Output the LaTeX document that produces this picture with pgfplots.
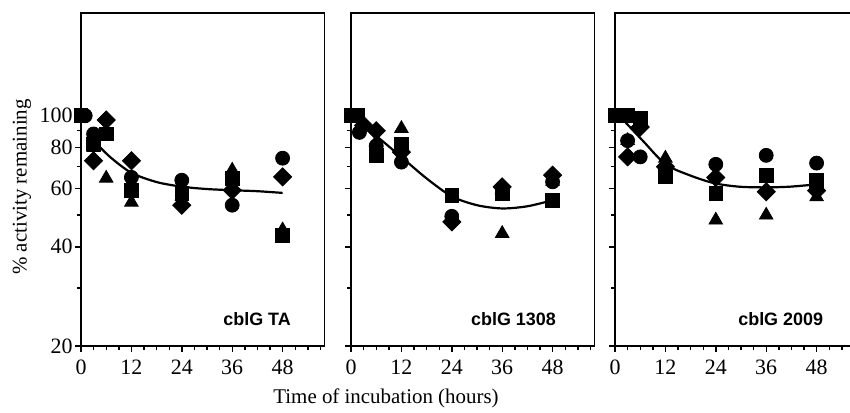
\documentclass[border=0pt]{standalone}
\usepackage{fontspec}
\setmainfont{Liberation Serif}
\setsansfont{Liberation Sans}
\usepackage{pgfplots}
\pgfplotsset{compat=1.18}
\pgfplotsset{
 panel/.style={
  scale only axis, width=121.8bp, height=166.5bp,
  anchor=south west,
  xmin=0, xmax=58, ymin=20, ymax=205,
  xtick={0,12,24,36,48}, xticklabels={0,12,24,36,48},
  minor xtick={3,6,9,15,18,21,27,30,33,39,42,45,51,54,57},
  ytick={20,40,60,80,100}, minor ytick={30,50,70,90},
  tick pos=left, tick align=outside,
  major tick length=3bp, minor tick length=2bp,
  every tick/.append style={black, line width=0.7bp},
  axis line style={line width=0.8bp},
  tick label style={font=\fontsize{11}{13}\selectfont},
  xticklabel style={yshift=-0.5bp},
  clip=false,
 },
 circ/.style={only marks, mark=*, mark size=3.5bp, black},
 sq/.style={only marks, mark=square*, mark size=3.4bp, black},
 dia/.style={only marks, mark=square*, mark size=3.2bp, black, mark options={rotate=45}},
 tri/.style={only marks, mark=triangle*, mark size=3.9bp, black},
 fitline/.style={no marks, smooth, black, line width=1.1bp},
}
\tikzset{lab/.style={anchor=base east, font=\fontsize{9}{11}\sffamily\bfseries}}
\begin{document}
\begin{tikzpicture}
% Panel 1
\begin{semilogyaxis}[panel, at={(40.5bp,33.5bp)}, yticklabels={20,40,60,80,100},
  yticklabel style={inner sep=1bp}]
\addplot[fitline] coordinates {(3,84) (7,74.8) (12,67.1) (18,62.9) (24,60.9) (30,59.9) (36,59.4) (42,59.0) (48,58.3)};
\addplot[circ] coordinates {(1,100) (3,88) (12,65) (24,63.7) (36,53.5) (48,74.3)};
\addplot[sq] coordinates {(0,100) (3,82) (6,88) (12,59.4) (24,58.2) (36,64.6) (48,43.4)};
\addplot[tri] coordinates {(3,80) (6,64.6) (12,54.6) (24,57) (36,68.3) (48,45)};
\addplot[dia] coordinates {(3,73) (6,97) (12,73) (24,53.5) (36,59.4) (48,65.2)};
\node[lab] at (rel axis cs:0.89,0.063) {cblG TA};
\end{semilogyaxis}
% Panel 2
\begin{semilogyaxis}[panel, at={(175.5bp,33.5bp)}, yticklabels={}]
\addplot[fitline] coordinates {(0,99) (5.3,88.3) (12,74.9) (18,64.5) (24,56.9) (30,53.5) (36,52.3) (42,53.1) (48,55.4)};
\addplot[circ] coordinates {(2,89) (6,81) (12,72.3) (24,49.5) (36,58) (48,63)};
\addplot[sq] coordinates {(0,100) (1.5,100) (6,75.8) (12,82) (24,57.3) (36,58.2) (48,55.4)};
\addplot[tri] coordinates {(1,98) (6,83) (12,91.4) (36,43.9) (48,63.2)};
\addplot[dia] coordinates {(3,93.5) (6,90) (12,77.5) (24,47.6) (36,60.8) (48,66)};
\node[lab] at (rel axis cs:0.87,0.063) {cblG 1308};
\end{semilogyaxis}
% Panel 3
\begin{semilogyaxis}[panel, at={(307.5bp,33.5bp)}, yticklabels={}]
\addplot[fitline] coordinates {(1,100) (6.6,84) (12,71.3) (17.7,66) (23.6,62.4) (29.5,60.9) (35.7,60.6) (41.7,60.9) (48,61.9)};
\addplot[circ] coordinates {(1,100) (3,84) (6,75) (12,69) (24,71.2) (36,75.8) (48,71.8)};
\addplot[sq] coordinates {(0,100) (3,100) (6,98) (12,65.2) (24,58.1) (36,66) (48,63.7)};
\addplot[tri] coordinates {(3,84) (12,74.3) (24,48.2) (36,49.9) (48,56.7)};
\addplot[dia] coordinates {(3,75) (6,92.4) (12,70) (24,64.9) (36,58.8) (48,59.2)};
\node[lab] at (rel axis cs:0.883,0.063) {cblG 2009};
\end{semilogyaxis}
\node[rotate=90, font=\fontsize{10.5}{12}\selectfont] at (11bp,113bp) {\% activity remaining};
\node[font=\fontsize{10.5}{12}\selectfont] at (193bp,7.5bp) {Time of incubation (hours)};
\pgfresetboundingbox
\useasboundingbox (0,0) rectangle (425bp,206.5bp);
\end{tikzpicture}
\end{document}
